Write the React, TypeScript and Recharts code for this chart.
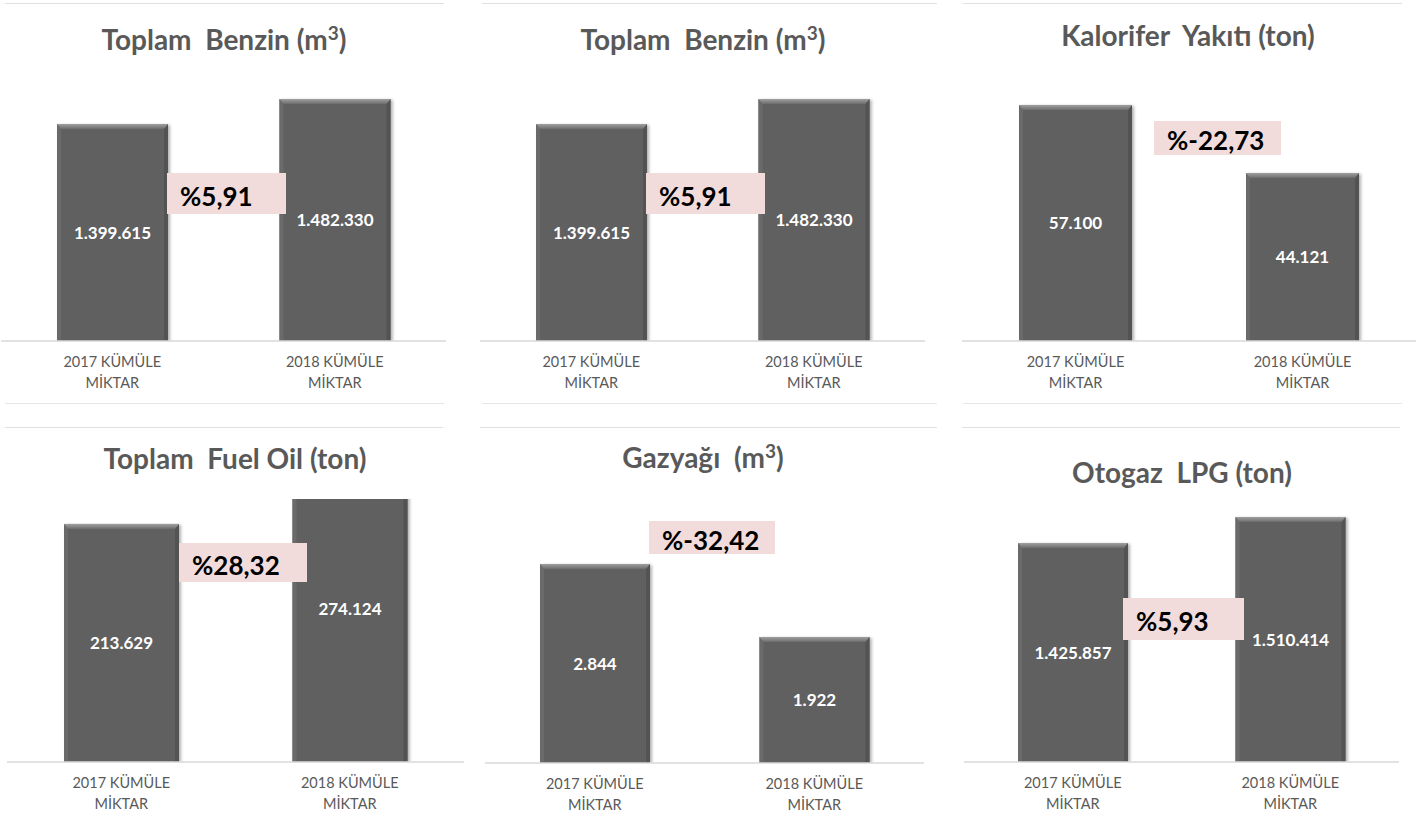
import { BarChart, Bar, XAxis, YAxis, LabelList } from "recharts";

const categories = ["2017 KÜMÜLE MİKTAR", "2018 KÜMÜLE MİKTAR"];

const toplamBenzin = [1399615, 1482330];
const kaloriferYakiti = [57100, 44121];
const toplamFuelOil = [213629, 274124];
const gazyagi = [2844, 1922];
const otogazLpg = [1425857, 1510414];

const changeLabels = ["%5,91", "%5,91", "%-22,73", "%28,32", "%-32,42", "%5,93"];

// value axis ranges (the source charts do not start at 0)
const yDomains: Array<[number, number]> = [
  [681600, 1512100],
  [681600, 1512100],
  [12050, 59960],
  [0, 236000],
  [330, 3665],
  [713600, 1568950],
];

const FONT = "Lato, 'Open Sans', sans-serif";
const GREY = "#595959";

type Panel = {
  title: React.ReactNode;
  values: number[];
  chart: { left: number; top: number; width: number; plotHeight: number };
  titlePos: { cx: number; baseline: number };
  border: { left: number; right: number; top: number; bottom?: number };
  box: { left: number; top: number; width: number; height: number };
  barSize: number;
};

const m3 = (
  <>
    (m<sup style={{ fontSize: "0.68em", verticalAlign: "0.55em", lineHeight: 0 }}>3</sup>)
  </>
);

const panels: Panel[] = [
  {
    title: <>Toplam  Benzin {m3}</>,
    values: toplamBenzin,
    chart: { left: 1, top: 90, width: 445, plotHeight: 251 },
    titlePos: { cx: 224, baseline: 50 },
    border: { left: 5, right: 444, top: 3, bottom: 403 },
    box: { left: 167, top: 173, width: 119, height: 41 },
    barSize: 111,
  },
  {
    title: <>Toplam  Benzin {m3}</>,
    values: toplamBenzin,
    chart: { left: 480, top: 90, width: 445, plotHeight: 251 },
    titlePos: { cx: 703, baseline: 50 },
    border: { left: 482, right: 937, top: 3, bottom: 403 },
    box: { left: 646, top: 173, width: 119, height: 41 },
    barSize: 111,
  },
  {
    title: <>Kalorifer  Yakıtı (ton)</>,
    values: kaloriferYakiti,
    chart: { left: 962, top: 90, width: 454, plotHeight: 251 },
    titlePos: { cx: 1188, baseline: 46 },
    border: { left: 963, right: 1402, top: 3, bottom: 403 },
    box: { left: 1154, top: 121, width: 127, height: 34 },
    barSize: 113,
  },
  {
    title: <>Toplam  Fuel Oil (ton)</>,
    values: toplamFuelOil,
    chart: { left: 7, top: 499, width: 457, plotHeight: 263 },
    titlePos: { cx: 235, baseline: 469 },
    border: { left: 5, right: 443, top: 427 },
    box: { left: 179, top: 543, width: 128, height: 39 },
    barSize: 115,
  },
  {
    title: <>Gazyağı  {m3}</>,
    values: gazyagi,
    chart: { left: 485, top: 499, width: 439, plotHeight: 264 },
    titlePos: { cx: 703, baseline: 468 },
    border: { left: 480, right: 937, top: 427 },
    box: { left: 649, top: 521, width: 126, height: 33 },
    barSize: 110,
  },
  {
    title: <>Otogaz  LPG (ton)</>,
    values: otogazLpg,
    chart: { left: 964, top: 499, width: 435, plotHeight: 263 },
    titlePos: { cx: 1182, baseline: 483 },
    border: { left: 962, right: 1400, top: 427 },
    box: { left: 1123, top: 598, width: 121, height: 42 },
    barSize: 110,
  },
];

const AXIS_H = 60;

const fmt = (v: number) => String(v).replace(/\B(?=(\d{3})+(?!\d))/g, ".");

function CategoryTick(props: any) {
  const { x, y, payload } = props;
  const text: string = payload.value;
  const cut = text.lastIndexOf(" ");
  return (
    <text x={x} y={y} textAnchor="middle" fill={GREY} fontSize={14.5} fontFamily={FONT}>
      <tspan x={x} dy={18}>{text.slice(0, cut)}</tspan>
      <tspan x={x} dy={21}>{text.slice(cut + 1)}</tspan>
    </text>
  );
}

function bevelShape(id: string) {
  return (props: any) => {
    const { x, y, width: w, height: h } = props;
    if (!h || h <= 0) return <g />;
    const b = 4;
    return (
      <g filter={`url(#shadow-${id})`}>
        <rect x={x} y={y} width={w} height={h} fill="#606060" />
        <polygon
          points={`${x},${y + h} ${x},${y} ${x + b},${y + b} ${x + b},${y + h}`}
          fill="#6a6a6a"
        />
        <polygon
          points={`${x + w},${y + h} ${x + w},${y} ${x + w - b},${y + b} ${x + w - b},${y + h}`}
          fill="#525252"
        />
        <polygon
          points={`${x},${y} ${x + w},${y} ${x + w - b},${y + b + 1} ${x + b},${y + b + 1}`}
          fill={`url(#top-${id})`}
        />
      </g>
    );
  };
}

function PanelChart({ panel, index }: { panel: Panel; index: number }) {
  const id = `p${index}`;
  const data = categories.map((c, i) => ({ category: c, value: panel.values[i] }));
  const { chart, titlePos, border, box } = panel;
  return (
    <>
      <div
        style={{
          position: "absolute",
          left: border.left,
          top: border.top,
          width: border.right - border.left,
          height: 1,
          background: "#e0e0e0",
        }}
      />
      {border.bottom !== undefined && (
        <div
          style={{
            position: "absolute",
            left: border.left,
            top: border.bottom,
            width: border.right - border.left,
            height: 1,
            background: "#e6e6e6",
          }}
        />
      )}
      <div
        style={{
          position: "absolute",
          left: titlePos.cx - 250,
          width: 500,
          top: titlePos.baseline - 25,
          textAlign: "center",
          fontFamily: FONT,
          fontWeight: 700,
          fontSize: 28,
          lineHeight: "28px",
          color: GREY,
          whiteSpace: "pre",
        }}
      >
        {panel.title}
      </div>
      <div style={{ position: "absolute", left: chart.left, top: chart.top }}>
        <BarChart
          width={chart.width}
          height={chart.plotHeight + AXIS_H}
          data={data}
          margin={{ top: 0, right: 0, bottom: 0, left: 0 }}
        >
          <defs>
            <linearGradient id={`top-${id}`} x1="0" y1="0" x2="0" y2="1">
              <stop offset="0%" stopColor="#a0a0a0" />
              <stop offset="100%" stopColor="#6c6c6c" />
            </linearGradient>
            <filter id={`shadow-${id}`} x="-10%" y="-5%" width="125%" height="110%">
              <feDropShadow dx="2" dy="1" stdDeviation="1.6" floodColor="#000" floodOpacity="0.3" />
            </filter>
          </defs>
          <XAxis
            dataKey="category"
            height={AXIS_H}
            axisLine={{ stroke: "#d9d9d9", strokeWidth: 1.5 }}
            tickLine={false}
            interval={0}
            tick={<CategoryTick />}
          />
          <YAxis hide type="number" domain={yDomains[index]} allowDataOverflow />
          <Bar
            dataKey="value"
            barSize={panel.barSize}
            shape={bevelShape(id)}
            isAnimationActive={false}
          >
            <LabelList
              dataKey="value"
              position="center"
              formatter={(v: any) => fmt(Number(v))}
              fill="#ffffff"
              fontSize={17}
              fontWeight={700}
              fontFamily={FONT}
            />
          </Bar>
        </BarChart>
      </div>
      <div
        style={{
          position: "absolute",
          left: box.left,
          top: box.top,
          width: box.width,
          height: box.height,
          background: "#f2dcdb",
          display: "flex",
          alignItems: "center",
          paddingLeft: 13,
          boxSizing: "border-box",
          fontFamily: FONT,
          fontWeight: 700,
          fontSize: 26,
          color: "#000",
          zIndex: 2,
        }}
      >
        <span style={{ position: "relative", top: 2 }}>{changeLabels[index]}</span>
      </div>
    </>
  );
}

export default function App() {
  return (
    <div
      style={{
        position: "absolute",
        left: 0,
        top: 0,
        width: 1421,
        height: 823,
        background: "#ffffff",
        overflow: "hidden",
      }}
    >
      {panels.map((p, i) => (
        <PanelChart key={i} panel={p} index={i} />
      ))}
    </div>
  );
}
